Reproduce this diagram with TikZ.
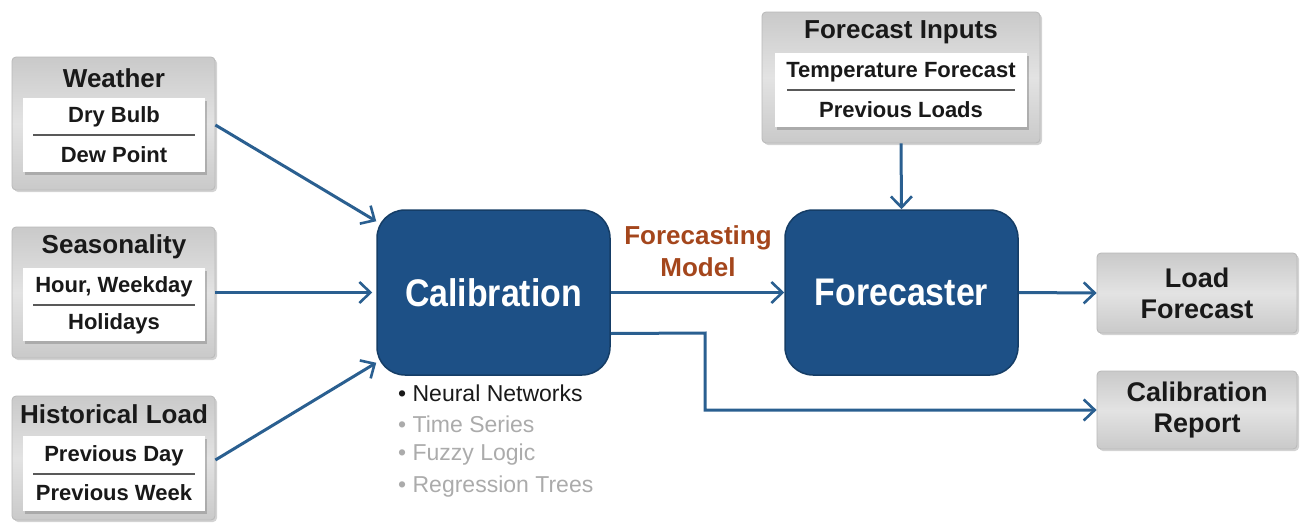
\documentclass[tikz,border=0pt]{standalone}
\usepackage{fontspec}
\setmainfont{Liberation Sans}
\newfontfamily\narrowsans{Liberation Sans}[FakeStretch=0.88]
\usetikzlibrary{arrows.meta,shadows}
\definecolor{calblue}{HTML}{1D5086}
\definecolor{calborder}{HTML}{153D66}
\definecolor{arrblue}{HTML}{2A5F90}
\definecolor{modelbrown}{HTML}{A4461C}
\definecolor{dimgray}{HTML}{ABABAB}
\tikzset{
  graybox/.style={rectangle, rounded corners=4pt, draw=gray!55, line width=0.8pt,
    top color=gray!42, bottom color=gray!42, middle color=gray!22,
    drop shadow={shadow xshift=2pt, shadow yshift=-2pt, opacity=0.35},
    inner sep=0pt},
  whitebox/.style={rectangle, fill=white, inner sep=0pt,
    drop shadow={shadow xshift=2pt, shadow yshift=-3pt, opacity=0.45}},
  bluebox/.style={rectangle, rounded corners=28pt, fill=calblue, draw=calborder,
    line width=1.5pt, minimum width=233pt, minimum height=165pt,
    text=white, font=\narrowsans\fontsize{38.5}{42}\selectfont\bfseries},
  title/.style={font=\fontsize{26}{29}\selectfont\bfseries, text=black!90},
  item/.style={font=\fontsize{22}{25}\selectfont\bfseries, text=black!90},
  outtext/.style={font=\fontsize{27}{31}\selectfont\bfseries, text=black!90, align=center},
  divider/.style={draw=black!65, line width=1.6pt},
  arr/.style={draw=arrblue, line width=3pt,
    -{Straight Barb[length=11pt, width=21pt, line width=2.6pt]}},
  bullet/.style={font=\fontsize{23}{26}\selectfont, anchor=west, inner sep=0pt},
}
\begin{document}
\begin{tikzpicture}[x=1pt,y=-1pt]
\path[use as bounding box] (0,0) rectangle (1301,525);

% ---- input groups on the left ----
% Weather
\node[graybox, minimum width=203pt, minimum height=133pt] (weather) at (113.5,123.5) {};
\node[whitebox, minimum width=182pt, minimum height=74pt] (weatherin) at (114,135) {};
\node[title] (weathert) at (114,78) {Weather};
\node[item] (drybulb) at (114,117) {Dry Bulb};
\node[item] (dewpoint) at (114,155) {Dew Point};
\draw[divider] (33,135) -- (195,135);

% Seasonality
\node[graybox, minimum width=203pt, minimum height=131pt] (season) at (113.5,292.5) {};
\node[whitebox, minimum width=182pt, minimum height=73pt] (seasonin) at (114,304) {};
\node[title] (seasont) at (114,247) {Seasonality};
\node[item] (hour) at (114,287) {Hour, Weekday};
\node[item] (holidays) at (114,324) {Holidays};
\draw[divider] (33,305) -- (195,305);

% Historical Load
\node[graybox, minimum width=203pt, minimum height=124pt] (hist) at (113.5,458) {};
\node[whitebox, minimum width=182pt, minimum height=75pt] (histin) at (114,473) {};
\node[title] (histt) at (114,414) {Historical Load};
\node[item] (prevday) at (114,456) {Previous Day};
\node[item] (prevweek) at (114,493) {Previous Week};
\draw[divider] (33,474) -- (195,474);

% ---- forecast inputs on top ----
\node[graybox, minimum width=278pt, minimum height=131pt] (finputs) at (901,77.5) {};
\node[whitebox, minimum width=252pt, minimum height=74pt] (finputsin) at (901,90) {};
\node[title] (finputst) at (901,32) {Forecast Inputs};
\node[item] (tempfc) at (901,72) {Temperature Forecast};
\node[item] (prevloads) at (901,110) {Previous Loads};
\draw[divider] (787,90) -- (1015,90);

% ---- processing blocks ----
\node[bluebox] (cal) at (493.5,292.5) {Calibration};
\node[bluebox] (fc) at (901.5,292.5) {Forecaster};

\node[font=\fontsize{26}{32}\selectfont\bfseries, text=modelbrown, align=center]
  (model) at (698,251) {Forecasting\\Model};

% ---- outputs ----
\node[graybox, minimum width=200pt, minimum height=80pt, outtext] (lf) at (1197,293) {Load\\Forecast};
\node[graybox, minimum width=200pt, minimum height=78pt, outtext] (cr) at (1197,410) {Calibration\\Report};

% ---- calibration methods ----
\node[bullet, text=black!90] (nn) at (398,393) {\textbullet\ Neural Networks};
\node[bullet, text=dimgray] (ts) at (398,424) {\textbullet\ Time Series};
\node[bullet, text=dimgray] (fl) at (398,455) {\textbullet\ Fuzzy Logic};
\node[bullet, text=dimgray] (rt) at (398,487) {\textbullet\ Regression Trees};

% ---- connectors ----
\coordinate (calin1) at ([yshift=-12pt]cal.north west);
\coordinate (calin3) at ([yshift=13pt]cal.south west);
\coordinate (calout2) at ([yshift=-41pt]cal.east);
\coordinate (bend1) at (705,333);
\coordinate (bend2) at (705,410);

\draw[arr] (weather.east |- 0,125) -- (calin1);
\draw[arr] (season.east) -- ([xshift=-4pt]cal.west);
\draw[arr] (hist.east |- 0,460) -- (calin3);
\draw[arr] (cal.east) -- (fc.west);
\draw[arr] (finputs.south) -- (fc.north);
\draw[arr] (fc.east) -- (lf.west);
\draw[arr] (calout2) -- (bend1) -- (bend2) -- (cr.west);
\end{tikzpicture}
\end{document}
